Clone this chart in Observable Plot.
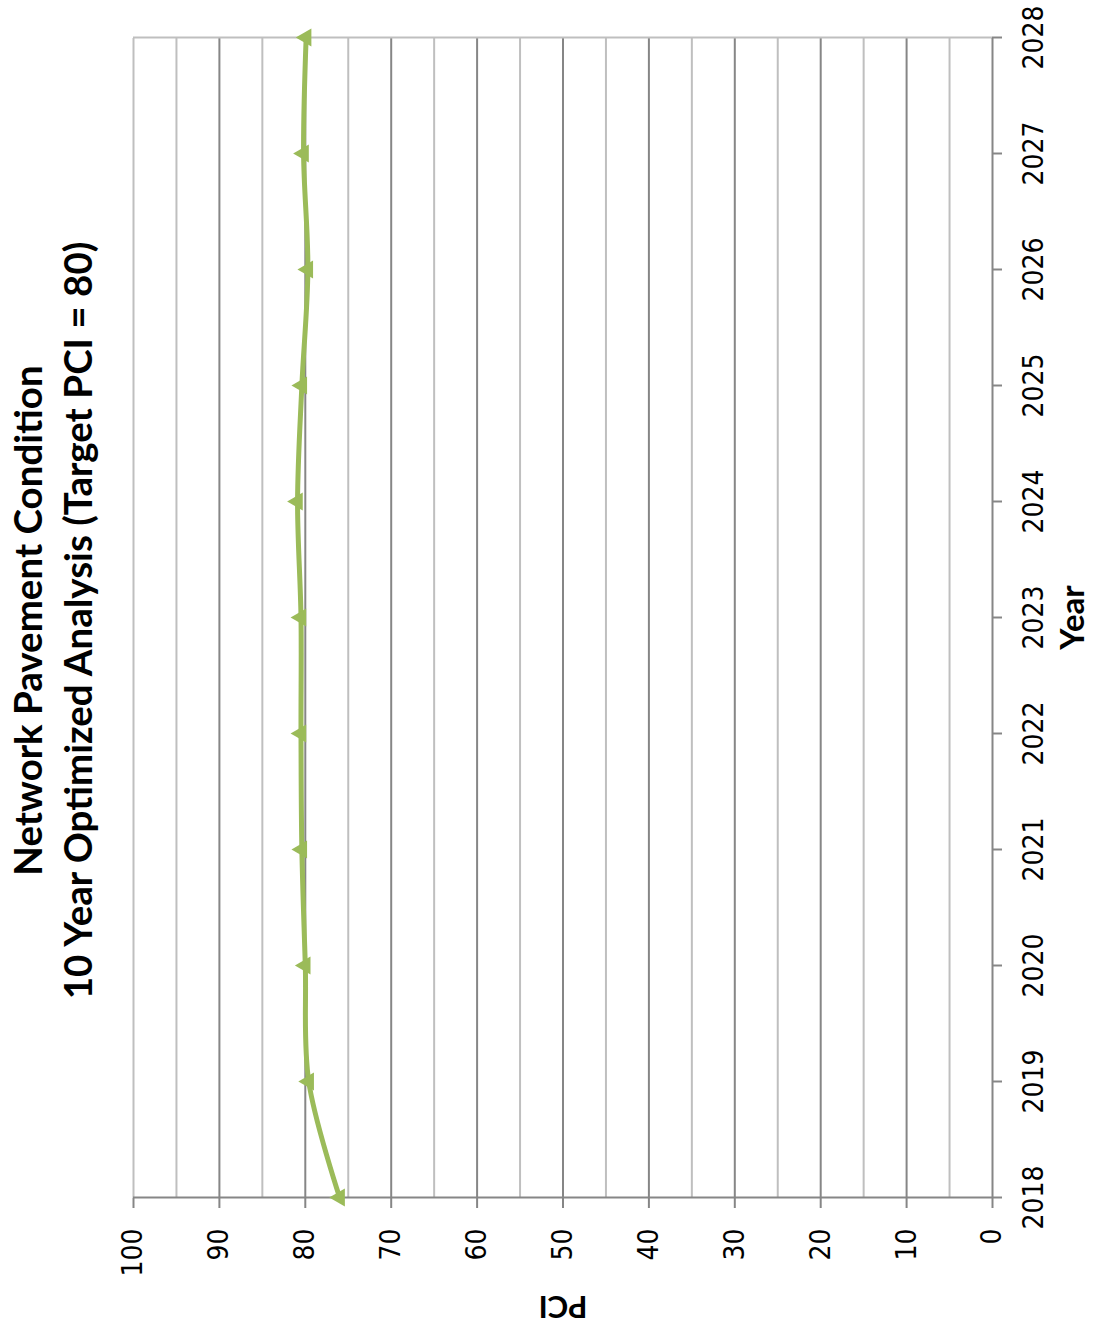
<!DOCTYPE html>
<html>
<head>
<meta charset="utf-8">
<script src="https://cdn.jsdelivr.net/npm/d3@7"></script>
<script src="https://cdn.jsdelivr.net/npm/@observablehq/plot@0.6"></script>
<style>
  html, body { margin: 0; padding: 0; background: #fff; }
  #page { position: relative; width: 1104px; height: 1331px; overflow: hidden; background: #fff; }
  /* the chart is laid out landscape, then turned a quarter turn counter-clockwise */
  #chart { position: absolute; left: 0; top: 0; width: 1331px; height: 1104px;
           transform-origin: 0 0; transform: translate(0px, 1331px) rotate(-90deg); }
  #title { height: 112px; box-sizing: border-box; padding: 2px 0 0 90px; text-align: center;
           font: bold 38.5px Lato, "Open Sans", sans-serif; line-height: 50px; color: #000; }
</style>
</head>
<body>
<div id="page">
  <div id="chart">
    <div id="title">Network Pavement Condition<br>10 Year Optimized Analysis (Target PCI = 80)</div>
  </div>
</div>
<script>
// Network PCI by year
const years = [2018, 2019, 2020, 2021, 2022, 2023, 2024, 2025, 2026, 2027, 2028];
const pci   = [76.0, 79.6, 80.0, 80.4, 80.5, 80.5, 80.9, 80.4, 79.7, 80.2, 79.9];

const pciTicks   = [0, 10, 20, 30, 40, 50, 60, 70, 80, 90, 100];
const majorGrid  = [10, 20, 30, 40, 50, 60, 70, 80, 90];
const minorGrid  = [5, 15, 25, 35, 45, 55, 65, 75, 85, 95];

const data = years.map((year, i) => ({year, pci: pci[i]}));

const tickFont = '"DejaVu Sans Condensed", "Liberation Sans", sans-serif';
const labelFont = 'Lato, "Open Sans", sans-serif';
const green = "#9bbb59";
const axisGray = "#868686";
const lightGray = "#bfbfbf";

const chart = Plot.plot({
  width: 1331,
  height: 992,
  marginTop: 21,
  marginBottom: 112,
  marginLeft: 133,
  marginRight: 38,
  style: {fontFamily: tickFont, fontSize: "28px", background: "white", color: "black"},
  x: {domain: [2018, 2028]},
  y: {domain: [0, 100]},
  marks: [
    Plot.ruleY(minorGrid, {stroke: lightGray, strokeWidth: 2}),
    Plot.ruleY(majorGrid, {stroke: axisGray, strokeWidth: 2}),
    Plot.ruleY([100], {stroke: lightGray, strokeWidth: 2}),
    Plot.ruleX([2028], {stroke: lightGray, strokeWidth: 2}),
    Plot.axisX({ticks: years, tickFormat: d => String(d), tickSize: 10, tickPadding: 21,
                stroke: axisGray, strokeWidth: 2, fill: "black", label: null}),
    Plot.axisY({ticks: pciTicks, tickSize: 10, tickPadding: 21,
                stroke: axisGray, strokeWidth: 2, fill: "black", label: null}),
    Plot.ruleX([2018], {stroke: axisGray, strokeWidth: 2}),
    Plot.ruleY([0], {stroke: axisGray, strokeWidth: 2}),
    Plot.line(data, {x: "year", y: "pci", curve: "catmull-rom", stroke: green, strokeWidth: 5}),
    Plot.dot(data, {x: "year", y: "pci", symbol: "triangle", r: 6.7, fill: green, stroke: "none"}),
    Plot.text(["PCI"], {text: d => d, frameAnchor: "left", textAnchor: "middle", dx: -108, rotate: -90,
                        fontWeight: "bold", fontSize: 31, fontFamily: labelFont, fill: "black"}),
    Plot.text(["Year"], {text: d => d, frameAnchor: "bottom", textAnchor: "middle", dy: 91,
                         fontWeight: "bold", fontSize: 33, fontFamily: labelFont, fill: "black"})
  ]
});

document.getElementById("chart").appendChild(chart);
</script>
</body>
</html>
